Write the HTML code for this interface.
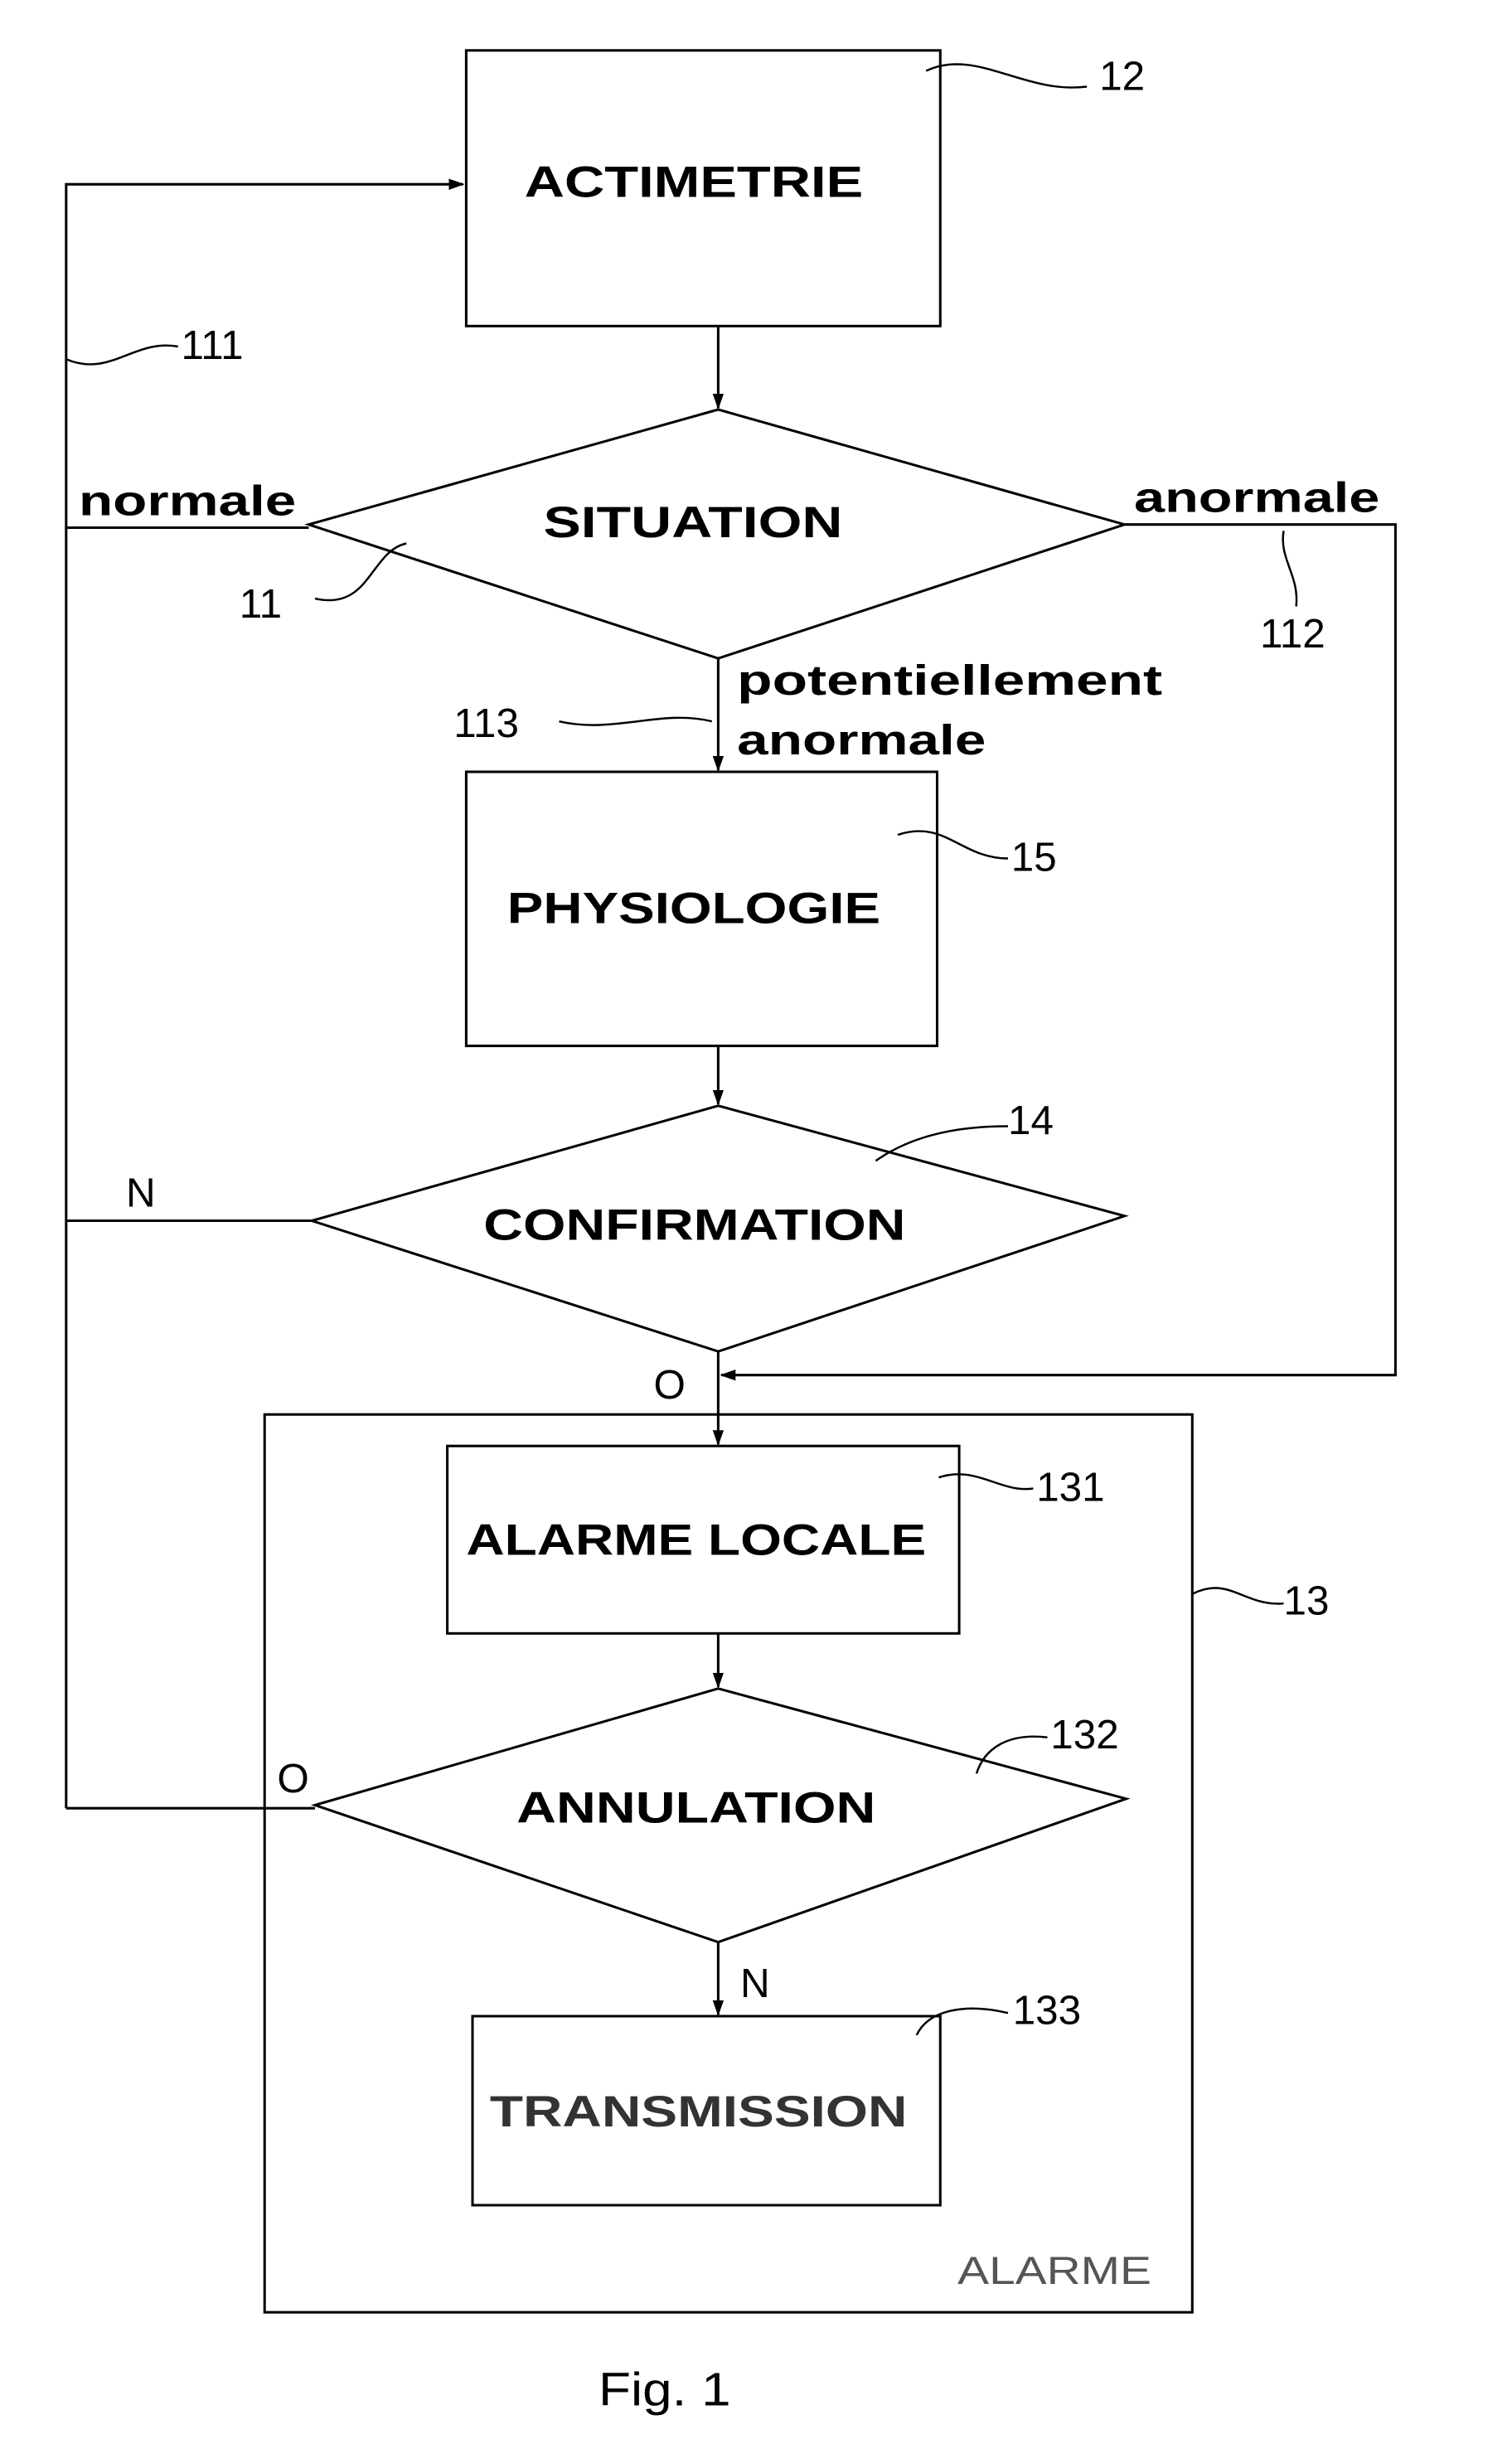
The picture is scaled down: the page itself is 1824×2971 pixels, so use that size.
<!DOCTYPE html>
<html><head><meta charset="utf-8"><style>html,body{margin:0;padding:0;background:#fff}svg{display:block}</style></head>
<body>
<svg width="1824" height="2971" viewBox="0 0 960 1563.68" xmlns="http://www.w3.org/2000/svg">
<defs><marker id="a" markerWidth="10" markerHeight="10" refX="9" refY="5" orient="auto" markerUnits="userSpaceOnUse"><path d="M0,1.5 L10,5 L0,8.5 Z" fill="#000"/></marker></defs>
<g fill="none" stroke="#000" stroke-width="1.6">
<rect x="296" y="32" width="301" height="175"/>
<line x1="456" y1="207" x2="456" y2="259" marker-end="url(#a)"/>
<polygon points="196,333 456,260 714,333 456,418"/>
<polyline points="196,335 42,335 42,117 294,117" marker-end="url(#a)"/>
<line x1="42" y1="335" x2="42" y2="1148"/>
<polyline points="714,333 886,333 886,873 458,873" marker-end="url(#a)"/>
<line x1="456" y1="418" x2="456" y2="489" marker-end="url(#a)"/>
<rect x="296" y="490" width="299" height="174"/>
<line x1="456" y1="664" x2="456" y2="701" marker-end="url(#a)"/>
<polygon points="198,775 456,702 714,772 456,858"/>
<line x1="198" y1="775" x2="42" y2="775"/>
<line x1="456" y1="858" x2="456" y2="917" marker-end="url(#a)"/>
<rect x="168" y="898" width="589" height="570"/>
<rect x="284" y="918" width="325" height="119"/>
<line x1="456" y1="1037" x2="456" y2="1071" marker-end="url(#a)"/>
<polygon points="200,1146 456,1072 715,1142 456,1233"/>
<line x1="200" y1="1148" x2="42" y2="1148"/>
<line x1="456" y1="1233" x2="456" y2="1279" marker-end="url(#a)"/>
<rect x="300" y="1280" width="297" height="120"/>
<g stroke-width="1.3">
<path d="M588,45 C620,30 650,60 690,55"/>
<path d="M42,228 C70,240 85,215 113,220"/>
<path d="M815,337 C812,355 825,365 823,385"/>
<path d="M200,380 C235,388 235,350 258,345"/>
<path d="M355,458 C390,466 420,450 452,458"/>
<path d="M570,530 C600,520 610,545 640,545"/>
<path d="M556,737 C580,720 610,715 640,715"/>
<path d="M757,1012 C780,1000 790,1020 815,1018"/>
<path d="M596,938 C620,930 635,948 656,945"/>
<path d="M620,1126 C625,1110 640,1100 665,1103"/>
<path d="M582,1292 C590,1275 615,1272 640,1278"/>
</g>
</g>
<g font-family="Liberation Sans, sans-serif" font-weight="bold" font-size="28" fill="#000">
<text x="333" y="125" textLength="215" lengthAdjust="spacingAndGlyphs">ACTIMETRIE</text>
<text x="345" y="341" textLength="190" lengthAdjust="spacingAndGlyphs">SITUATION</text>
<text x="322" y="586" textLength="237" lengthAdjust="spacingAndGlyphs">PHYSIOLOGIE</text>
<text x="307" y="787" textLength="268" lengthAdjust="spacingAndGlyphs">CONFIRMATION</text>
<text x="296" y="987" textLength="292" lengthAdjust="spacingAndGlyphs">ALARME LOCALE</text>
<text x="328" y="1157" textLength="228" lengthAdjust="spacingAndGlyphs">ANNULATION</text>
<text x="311" y="1350" textLength="265" lengthAdjust="spacingAndGlyphs" fill="#333">TRANSMISSION</text>
</g>
<g font-family="Liberation Sans, sans-serif" font-weight="bold" font-size="27" fill="#000">
<text x="50" y="327" textLength="138" lengthAdjust="spacingAndGlyphs">normale</text>
<text x="720" y="325" textLength="156" lengthAdjust="spacingAndGlyphs">anormale</text>
<text x="468" y="441" textLength="270" lengthAdjust="spacingAndGlyphs">potentiellement</text>
<text x="468" y="479" textLength="158" lengthAdjust="spacingAndGlyphs">anormale</text>
</g>
<g font-family="Liberation Sans, sans-serif" font-size="26" fill="#000">
<text x="698" y="57">12</text>
<text x="115" y="228">111</text>
<text x="800" y="411">112</text>
<text x="152" y="392">11</text>
<text x="288" y="468">113</text>
<text x="642" y="553">15</text>
<text x="640" y="720">14</text>
<text x="80" y="766">N</text>
<text x="415" y="888">O</text>
<text x="815" y="1025">13</text>
<text x="658" y="953">131</text>
<text x="667" y="1110">132</text>
<text x="176" y="1138">O</text>
<text x="470" y="1268">N</text>
<text x="643" y="1285">133</text>
<text x="608" y="1450" font-size="25" fill="#555" textLength="123" lengthAdjust="spacingAndGlyphs">ALARME</text>
<text x="380" y="1527" font-size="30" textLength="84" lengthAdjust="spacingAndGlyphs">Fig. 1</text>
</g>
</svg>
</body></html>
